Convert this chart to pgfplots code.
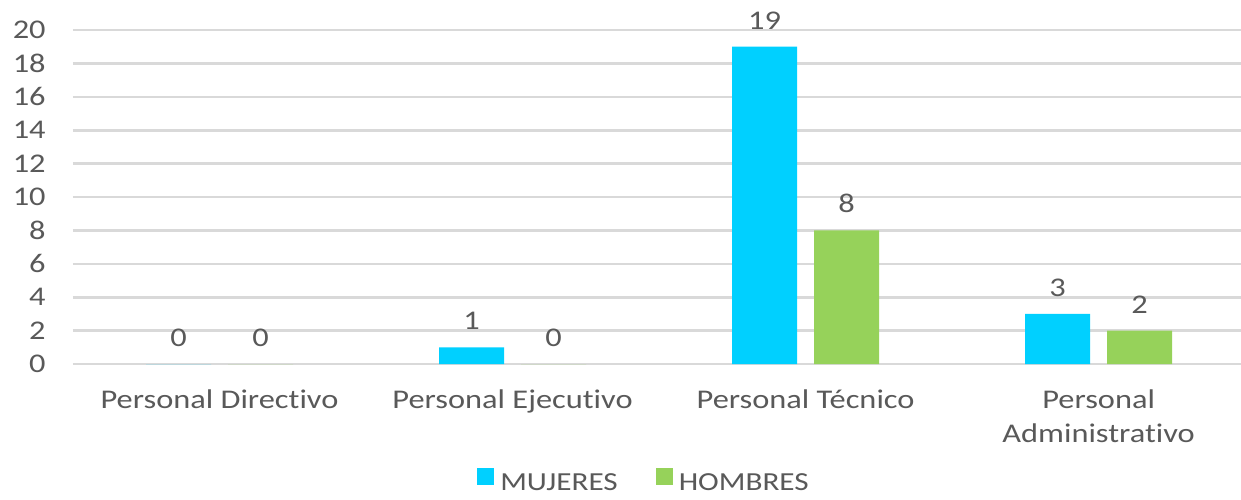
\documentclass[border=0pt]{standalone}
\usepackage{pgfplots}
\pgfplotsset{compat=1.18}
\usepackage{fontspec}
\setmainfont{Carlito}[FakeStretch=1.2, Ligatures=NoCommon]
\definecolor{txt}{RGB}{89,89,89}
\definecolor{grid}{RGB}{217,217,217}
\definecolor{muj}{RGB}{0,208,255}
\definecolor{hom}{RGB}{150,210,90}
\begin{document}
\fontsize{13.5pt}{17pt}\selectfont
\begin{tikzpicture}
\useasboundingbox (-36.5pt,-67.5pt) rectangle (584pt,182pt);
\begin{axis}[
  at={(0,0)}, anchor=south west,
  scale only axis, width=584pt, height=167pt,
  ybar=8.5pt, bar width=32.5pt,
  xmin=-0.5, xmax=3.486, ymin=0, ymax=20,
  xtick={0,1,2,3},
  xticklabels={Personal Directivo, Personal Ejecutivo, Personal Técnico, {Personal\\Administrativo}},
  ytick={0,2,...,20},
  axis line style={draw=none},
  major tick length=0pt, tick style={draw=none},
  xmajorgrids=false, ymajorgrids=true,
  y grid style={grid, line width=1.3pt},
  tick label style={text=txt, font=\fontsize{13.5pt}{17pt}\selectfont},
  /pgf/number format/assume math mode=true,
  yticklabel style={xshift=-9pt},
  xticklabel style={align=center, yshift=-8pt},
  nodes near coords,
  every node near coord/.append style={text=txt, yshift=4pt, font=\fontsize{13.5pt}{17pt}\selectfont},
  legend style={draw=none, at={(0.5,0)}, anchor=center, yshift=-59.5pt, xshift=-6pt,
    legend columns=2, text=txt, font=\fontsize{13pt}{15pt}\selectfont,
    /tikz/every even column/.append style={column sep=17pt},
    /tikz/every odd column/.append style={column sep=1pt}},
  legend image code/.code={\fill[#1] (0pt,-0.5pt) rectangle (8.5pt,8pt);},
]
\addplot[fill=muj, draw=none] coordinates {(0,0) (1,1) (2,19) (3,3)};
\addplot[fill=hom, draw=none] coordinates {(0,0) (1,0) (2,8) (3,2)};
\legend{MUJERES, HOMBRES}
\end{axis}
\end{tikzpicture}
\end{document}
